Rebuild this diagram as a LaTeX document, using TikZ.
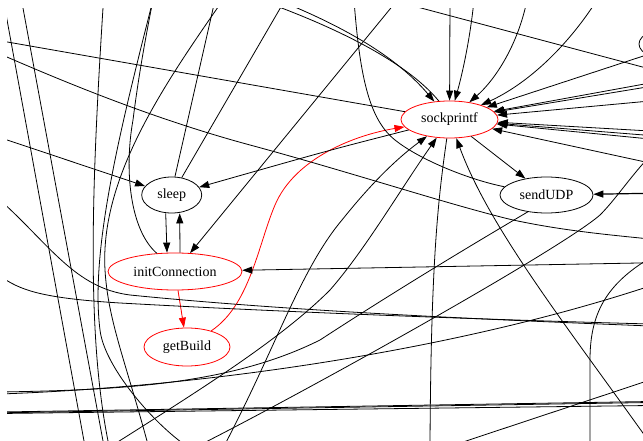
\documentclass[tikz,border=0pt]{standalone}
\usepackage{fontspec}
\setmainfont{Liberation Serif}
\usetikzlibrary{shapes.geometric,arrows.meta}
\tikzset{
  ln/.style={draw=black, line width=0.8pt},
  arr/.style={ln, -{Triangle[length=10pt,width=7pt]}},
  nd/.style={ellipse, draw, line width=0.8pt, inner sep=0pt, font=\fontsize{14}{16}\selectfont},
  rd/.style={draw=red},
}
\begin{document}
\begin{tikzpicture}[x=1pt,y=-1pt]
\useasboundingbox (0,0) rectangle (643,441);
\begin{scope}
\clip (7,9) rectangle (643,441);
% nodes
\node[nd, rd, minimum width=97pt, minimum height=37pt] (sock) at (449.5,119.5) {sockprintf};
\node[nd, minimum width=60pt, minimum height=36pt] (sleep) at (171.7,195) {sleep};
\node[nd, minimum width=93pt, minimum height=36pt] (udp) at (546.5,195) {sendUDP};
\node[nd, rd, minimum width=134pt, minimum height=37pt] (init) at (175,271.5) {initConnection};
\node[nd, rd, minimum width=86pt, minimum height=38pt] (gb) at (187,347) {getBuild};
\node[nd, minimum width=82pt, minimum height=36pt] (part) at (680,44) {};

% red edges
\draw[arr, draw=red, fill=red] (init) -- (gb);
\draw[arr, draw=red] (gb) .. controls (250,305) and (258,245) .. (275,205) .. controls (295,158) and (355,135) .. (sock);

% around sleep / initConnection
\draw[arr] ([xshift=-6pt]sleep.south) -- ([xshift=-8pt]init.north);
\draw[arr] ([xshift=5pt]init.north) -- ([xshift=8pt]sleep.south);
\draw[arr] (0,137.6) -- (sleep);
\draw[arr] (sock) .. controls (330,150) .. (sleep);
\draw[arr] (397.4,0) -- (init);
\draw[ln] (init.135) .. controls (130,230) and (124,170) .. (133,120) .. controls (138,80) and (145,40) .. (153,0);
\draw[ln] (sleep.80) -- (215,0);
\draw[ln] (sleep.60) -- (285,0);

% long near-vertical lines on the left
\draw[ln] (3.4,0) -- (84,441);
\draw[ln] (21.5,0) -- (103,441);
\draw[ln] (103.5,0) .. controls (92,180) and (86,330) .. (108,441);
\draw[ln] (223,0) .. controls (160,90) and (100,180) .. (105,270) .. controls (108,320) and (125,360) .. (147,441);
\draw[ln] (153,0) .. controls (120,130) and (90,250) .. (100,330) .. controls (104,365) and (150,420) .. (185,445);

% bundle curves from the left
\draw[ln] (0,200) .. controls (50,245) and (75,288) .. (130,295) .. controls (300,312) and (500,320) .. (650,326);
\draw[ln] (0,276) .. controls (20,290) and (40,298) .. (120,303) .. controls (300,313) and (500,320) .. (650,324);

% lines toward sockprintf from the left
\draw[ln] (0,40.7) -- (sock);
\draw[ln] (0,54) .. controls (60,80) and (150,118) .. (250,145) .. controls (350,172) and (450,205) .. (513,220) .. controls (560,230) and (600,234) .. (650,239);
\draw[arr] (278,0) .. controls (340,25) and (395,55) .. (sock);
\draw[ln] (260,0) .. controls (330,25) and (405,60) .. (sock.120);
\draw[ln] (udp) .. controls (470,180) and (420,160) .. (395,140) .. controls (370,120) and (360,80) .. (354,0);

% from the top into sockprintf
\draw[arr] (450,0) -- (sock);
\draw[arr] (474,0) .. controls (470,40) and (462,75) .. (sock);
\draw[arr] (527,0) .. controls (518,45) and (495,80) .. (sock);
\draw[arr] (597,0) .. controls (565,50) and (525,85) .. (sock);
\draw[ln] (391,0) -- (680,77);
\draw[arr] (part) -- (sock);

% from the right into sockprintf
\draw[arr] (650,83) -- (sock);
\draw[arr] (650,86.5) -- (sock);
\draw[arr] (650,101) -- (sock);
\draw[arr] (650,131) -- (sock);
\draw[arr] (650,135.5) -- (sock);
\draw[arr] (650,139) -- (sock);
\draw[arr] (650,163) -- (sock);

% sendUDP
\draw[arr] (sock) -- (udp);
\draw[arr, line width=1.2pt] (650,193.3) -- (udp);
\draw[ln] (udp.222) .. controls (458,253) and (389,295) .. (320,340) .. controls (230,385) and (120,390) .. (0,392);

% initConnection from right
\draw[arr] (650,262.8) -- (init);
\draw[ln] (650,258) .. controls (605,285) and (590,315) .. (590,360) -- (590,445);

% below sockprintf
\draw[ln] (sock) .. controls (438,200) and (431,260) .. (430,445);
\draw[arr] (655,450) .. controls (570,330) and (490,230) .. (sock);
\draw[arr] (222,450) .. controls (275,350) and (300,270) .. (342,220) .. controls (370,185) and (395,160) .. (sock);
\draw[arr] (105,450) .. controls (200,390) and (280,340) .. (330,290) .. controls (365,250) and (400,190) .. (sock);
\draw[ln] (190,450) .. controls (300,395) and (560,250) .. (600,215) .. controls (615,200) and (628,180) .. (648,158);

% lower long lines
\draw[ln] (0,394) .. controls (200,387) and (450,352) .. (650,286);
\draw[ln] (0,412) -- (650,401.5);
\draw[ln] (0,412.8) -- (650,402.5);
\draw[ln] (0,413.5) -- (650,405.5);
\draw[ln] (460,443) -- (650,380);
\end{scope}
\end{tikzpicture}
\end{document}
